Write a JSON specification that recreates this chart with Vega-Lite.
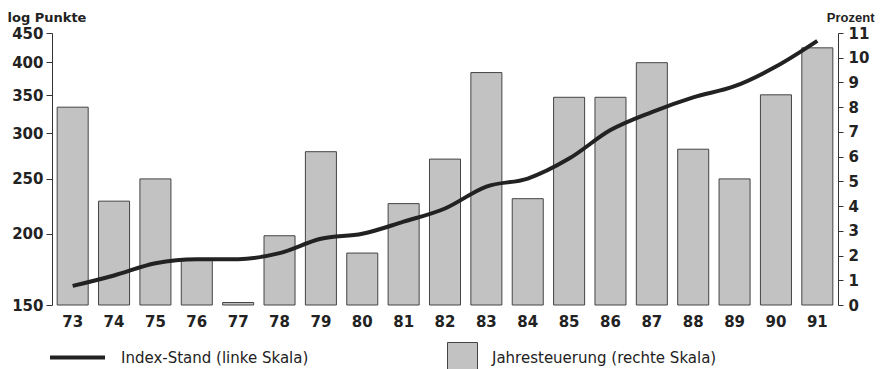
{
  "$schema": "https://vega.github.io/schema/vega-lite/v6.json",
  "autosize": "none",
  "width": 786,
  "height": 272,
  "padding": {"left": 52, "top": 33, "right": 45, "bottom": 64},
  "background": "white",
  "config": {
    "view": {"stroke": null},
    "font": "DejaVu Sans",
    "axis": {"labelFont": "DejaVu Sans", "labelFontWeight": "bold", "titleFont": "DejaVu Sans", "labelColor": "#222", "titleColor": "#222", "domainColor": "#333", "tickColor": "#333", "grid": false},
    "legend": {"labelFont": "DejaVu Sans", "labelColor": "#222", "labelLimit": 400}
  },
  "data": {
    "values": [
      {"year": "73", "inflation": 8.0, "index": 162},
      {"year": "74", "inflation": 4.2, "index": 169},
      {"year": "75", "inflation": 5.1, "index": 177.5},
      {"year": "76", "inflation": 1.8, "index": 180.5},
      {"year": "77", "inflation": 0.1, "index": 180.5},
      {"year": "78", "inflation": 2.8, "index": 185},
      {"year": "79", "inflation": 6.2, "index": 196},
      {"year": "80", "inflation": 2.1, "index": 200},
      {"year": "81", "inflation": 4.1, "index": 210},
      {"year": "82", "inflation": 5.9, "index": 221.5},
      {"year": "83", "inflation": 9.4, "index": 242},
      {"year": "84", "inflation": 4.3, "index": 250},
      {"year": "85", "inflation": 8.4, "index": 271},
      {"year": "86", "inflation": 8.4, "index": 304},
      {"year": "87", "inflation": 9.8, "index": 327},
      {"year": "88", "inflation": 6.3, "index": 347},
      {"year": "89", "inflation": 5.1, "index": 363},
      {"year": "90", "inflation": 8.5, "index": 393},
      {"year": "91", "inflation": 10.4, "index": 436}
    ]
  },
  "encoding": {
    "x": {
      "field": "year", "type": "ordinal", "sort": null,
      "scale": {"paddingInner": 0.25, "paddingOuter": 0.125},
      "axis": {"title": null, "domain": false, "ticks": false, "labelAngle": 0, "labelFontSize": 15, "labelPadding": 9}
    }
  },
  "layer": [
    {
      "mark": {"type": "bar", "stroke": "#444", "strokeWidth": 1},
      "encoding": {
        "y": {
          "field": "inflation", "type": "quantitative",
          "scale": {"domain": [0, 11], "nice": false, "zero": true},
          "axis": {"orient": "right", "values": [0,1,2,3,4,5,6,7,8,9,10,11], "tickSize": 5, "labelFontSize": 15, "labelPadding": 5,
                   "title": "Prozent", "titleFont": "Liberation Sans", "titleAngle": 0, "titleAlign": "right", "titleBaseline": "alphabetic", "titleX": 36, "titleY": -12, "titleFontSize": 13, "titleFontWeight": "bold"}
        },
        "fill": {
          "datum": "Jahresteuerung (rechte Skala)",
          "scale": {"domain": ["Jahresteuerung (rechte Skala)"], "range": ["#c2c2c2"]},
          "legend": {"title": null, "orient": "none", "legendX": 395, "legendY": 309, "symbolType": "square", "symbolSize": 900, "symbolStrokeColor": "#444", "symbolStrokeWidth": 1, "labelFontSize": 15, "labelOffset": 14}
        }
      }
    },
    {
      "mark": {"type": "line", "strokeWidth": 4, "interpolate": "monotone"},
      "encoding": {
        "y": {
          "field": "index", "type": "quantitative",
          "scale": {"type": "log", "domain": [150, 450], "nice": false},
          "axis": {"orient": "left", "values": [150,200,250,300,350,400,450], "tickSize": 6, "labelFontSize": 15, "labelPadding": 3,
                   "title": "log Punkte", "titleAngle": 0, "titleAlign": "left", "titleBaseline": "alphabetic", "titleX": -45, "titleY": -12, "titleFontSize": 13, "titleFontWeight": "bold"}
        },
        "stroke": {
          "datum": "Index-Stand (linke Skala)",
          "scale": {"domain": ["Index-Stand (linke Skala)"], "range": ["#222"]},
          "legend": {"title": null, "orient": "none", "legendX": -4, "legendY": 295, "symbolType": "stroke", "symbolSize": 3025, "symbolStrokeWidth": 4, "labelFontSize": 15, "labelOffset": 14}
        }
      }
    }
  ],
  "resolve": {"scale": {"y": "independent"}}
}
